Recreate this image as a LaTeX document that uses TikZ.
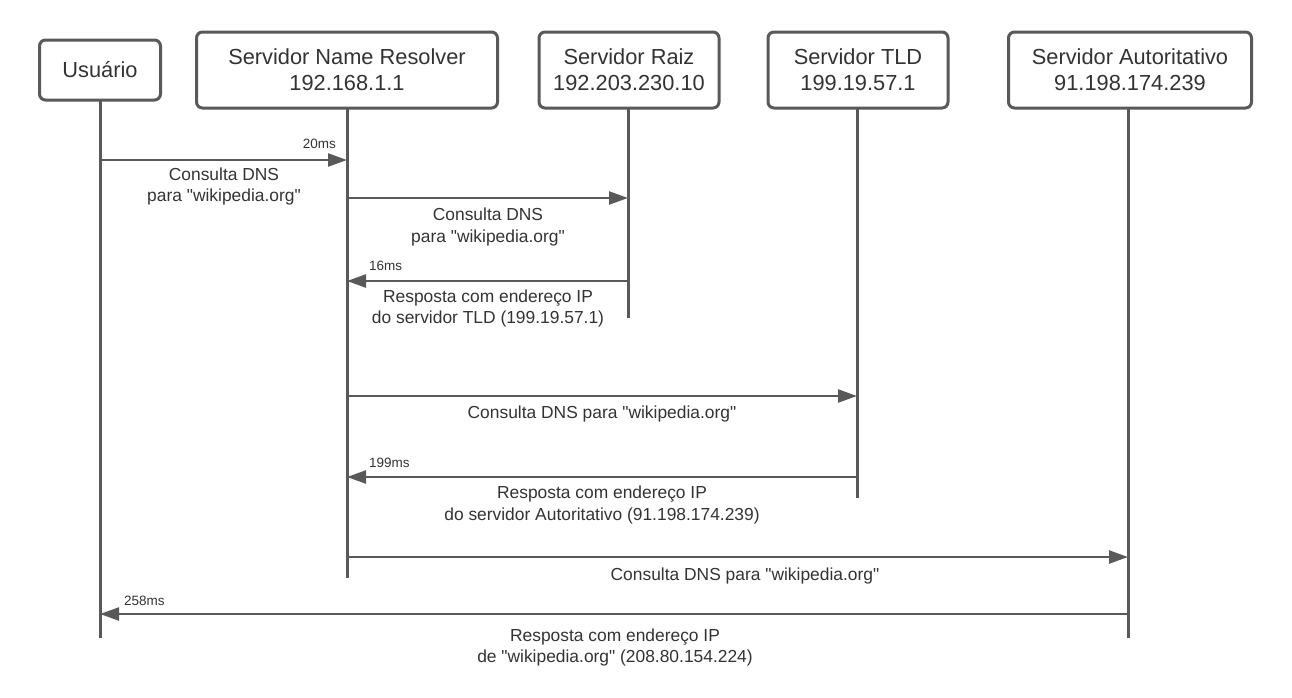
\documentclass[tikz,border=0pt]{standalone}
\usepackage{fontspec}
\setmainfont{Liberation Sans}[Ligatures=TeXOff]
\usetikzlibrary{arrows.meta}
\definecolor{ln}{HTML}{595959}
\definecolor{tx}{HTML}{333333}
\begin{document}
\begin{tikzpicture}[x=1pt,y=-1pt,
  actor/.style={draw=ln,line width=3pt,rounded corners=6pt,fill=white,text=tx,
    font=\fontsize{21.8}{26}\selectfont,align=center,inner sep=0pt},
  life/.style={draw=ln,line width=3pt},
  msg/.style={draw=ln,line width=2.4pt,-{Triangle[length=19pt,width=13pt]}},
  lbl/.style={text=tx,font=\fontsize{17.4}{21.5}\selectfont,align=center,inner sep=0pt},
  tm/.style={text=tx,font=\fontsize{13.5}{15}\selectfont,inner sep=0pt}]
\useasboundingbox (0,0) rectangle (1292,697);
% lifeline coordinates
\coordinate (u0) at (100,100); \coordinate (u1) at (100,638);
\coordinate (n0) at (347,108); \coordinate (n1) at (347,578);
\coordinate (r0) at (628,108); \coordinate (r1) at (628,318);
\coordinate (t0) at (857,108); \coordinate (t1) at (857,498);
\coordinate (a0) at (1128,108); \coordinate (a1) at (1128,638);
\draw[life] (u0) -- (u1);
\draw[life] (n0) -- (n1);
\draw[life] (r0) -- (r1);
\draw[life] (t0) -- (t1);
\draw[life] (a0) -- (a1);
% actors
\node[actor,minimum width=121pt,minimum height=60pt] (usr) at (100,70) {Usuário};
\node[actor,minimum width=301pt,minimum height=76pt] (res) at (347,70) {Servidor Name Resolver\\192.168.1.1};
\node[actor,minimum width=180pt,minimum height=76pt] (raiz) at (629,70) {Servidor Raiz\\192.203.230.10};
\node[actor,minimum width=180pt,minimum height=76pt] (tld) at (858,70) {Servidor TLD\\199.19.57.1};
\node[actor,minimum width=243pt,minimum height=76pt] (aut) at (1130,70) {Servidor Autoritativo\\91.198.174.239};
% message coordinates
\coordinate (m1a) at (100,160); \coordinate (m1b) at (347,160);
\coordinate (m2a) at (347,198); \coordinate (m2b) at (628,198);
\coordinate (m3a) at (628,281); \coordinate (m3b) at (347,281);
\coordinate (m4a) at (347,396); \coordinate (m4b) at (857,396);
\coordinate (m5a) at (857,477); \coordinate (m5b) at (347,477);
\coordinate (m6a) at (347,557); \coordinate (m6b) at (1128,557);
\coordinate (m7a) at (1128,614); \coordinate (m7b) at (100,614);
\draw[msg] (m1a) -- (m1b);
\draw[msg] (m2a) -- (m2b);
\draw[msg] (m3a) -- (m3b);
\draw[msg] (m4a) -- (m4b);
\draw[msg] (m5a) -- (m5b);
\draw[msg] (m6a) -- (m6b);
\draw[msg] (m7a) -- (m7b);
% labels
\node[lbl] (l1) at (224,186.5) {Consulta DNS\\para "wikipedia.org"};
\node[lbl] (l2) at (488,227) {Consulta DNS\\para "wikipedia.org"};
\node[lbl] (l3) at (488,308.5) {Resposta com endereço IP\\do servidor TLD (199.19.57.1)};
\node[lbl] (l4) at (602,414) {Consulta DNS para "wikipedia.org"};
\node[lbl] (l5) at (602,505) {Resposta com endereço IP\\do servidor Autoritativo (91.198.174.239)};
\node[lbl] (l6) at (745,576) {Consulta DNS para "wikipedia.org"};
\node[lbl] (l7) at (615,647.5) {Resposta com endereço IP\\de "wikipedia.org" (208.80.154.224)};
% times
\node[tm,anchor=east] (t20) at (336,144) {20ms};
\node[tm,anchor=west] (t16) at (369,266) {16ms};
\node[tm,anchor=west] (t199) at (369,463) {199ms};
\node[tm,anchor=west] (t258) at (124,601) {258ms};
\end{tikzpicture}
\end{document}
